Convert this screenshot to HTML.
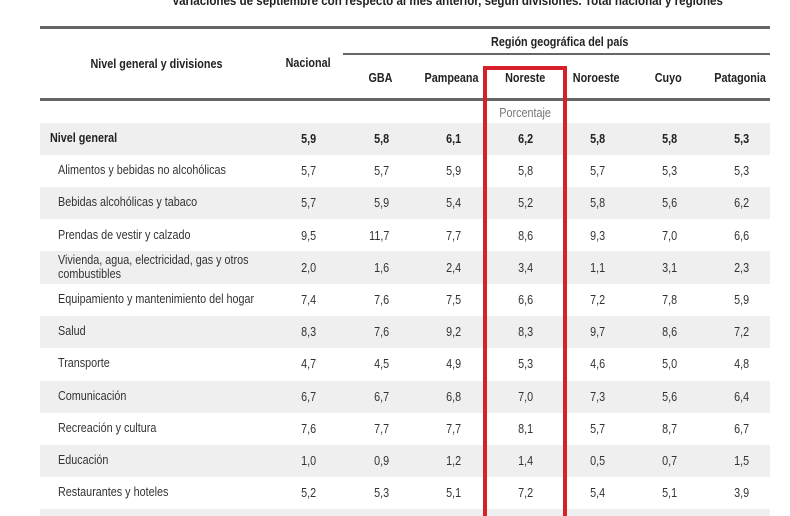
<!DOCTYPE html>
<html><head><meta charset="utf-8"><style>
html,body{margin:0;width:790px;height:516px;overflow:hidden;}
body{background:#fff;position:relative;font-family:"Liberation Sans",sans-serif;color:#333;}
.a{position:absolute;white-space:nowrap;font-size:13px;text-align:center;}
.a span,.n span,.l span{display:inline-block;transform:scaleX(.83);}
.a span{transform-origin:center;}
.n span{transform-origin:right;}
.l span{transform-origin:left;}
.b{font-weight:bold;color:#222;}
.band{position:absolute;left:40px;width:730px;background:#efefef;}
.line{position:absolute;background:#666;}
.n{position:absolute;font-size:13px;text-align:right;width:60px;white-space:nowrap;}
.l{position:absolute;font-size:13px;left:58px;white-space:nowrap;}
</style></head><body>
<div class="a b" style="left:138px;width:600px;top:-7px;"><span style="transform:scaleX(.89)">Variaciones de septiembre con respecto al mes anterior, según divisiones. Total nacional y regiones</span></div>
<div class="line" style="left:40px;top:26px;width:730px;height:3px;"></div>
<div class="line" style="left:343px;top:53px;width:427px;height:2px;"></div>
<div class="line" style="left:40px;top:98px;width:730px;height:3px;"></div>
<div class="band" style="top:123px;height:32px"></div>
<div class="band" style="top:187px;height:32px"></div>
<div class="band" style="top:251px;height:33px"></div>
<div class="band" style="top:316px;height:32px"></div>
<div class="band" style="top:381px;height:32px"></div>
<div class="band" style="top:445px;height:32px"></div>
<div class="band" style="top:509px;height:10px"></div>
<div class="a b" style="left:56px;width:200px;top:56px;"><span>Nivel general y divisiones</span></div>
<div class="a b" style="left:268px;width:80px;top:55px;"><span>Nacional</span></div>
<div class="a b" style="left:460px;width:200px;top:34px;"><span>Región geográfica del país</span></div>
<div class="a b" style="left:340px;width:80px;top:70px;"><span>GBA</span></div>
<div class="a b" style="left:412px;width:80px;top:70px;"><span>Pampeana</span></div>
<div class="a b" style="left:485px;width:80px;top:70px;"><span>Noreste</span></div>
<div class="a b" style="left:556px;width:80px;top:70px;"><span>Noroeste</span></div>
<div class="a b" style="left:628px;width:80px;top:70px;"><span>Cuyo</span></div>
<div class="a b" style="left:700px;width:80px;top:70px;"><span>Patagonia</span></div>
<div class="a" style="left:485px;width:80px;top:105px;color:#777;"><span>Porcentaje</span></div>
<div id="rows"></div>
<div style="position:absolute;left:483px;top:66px;width:76px;height:460px;border:4px solid #d6202a;border-bottom:none;"></div>
<script>
var d=[["Nivel general",["5,9","5,8","6,1","6,2","5,8","5,8","5,3"],1],
["Alimentos y bebidas no alcohólicas",["5,7","5,7","5,9","5,8","5,7","5,3","5,3"]],
["Bebidas alcohólicas y tabaco",["5,7","5,9","5,4","5,2","5,8","5,6","6,2"]],
["Prendas de vestir y calzado",["9,5","11,7","7,7","8,6","9,3","7,0","6,6"]],
["Vivienda, agua, electricidad, gas y otros<br>combustibles",["2,0","1,6","2,4","3,4","1,1","3,1","2,3"]],
["Equipamiento y mantenimiento del hogar",["7,4","7,6","7,5","6,6","7,2","7,8","5,9"]],
["Salud",["8,3","7,6","9,2","8,3","9,7","8,6","7,2"]],
["Transporte",["4,7","4,5","4,9","5,3","4,6","5,0","4,8"]],
["Comunicación",["6,7","6,7","6,8","7,0","7,3","5,6","6,4"]],
["Recreación y cultura",["7,6","7,7","7,7","8,1","5,7","8,7","6,7"]],
["Educación",["1,0","0,9","1,2","1,4","0,5","0,7","1,5"]],
["Restaurantes y hoteles",["5,2","5,3","5,1","7,2","5,4","5,1","3,9"]]];
var R=[316,389,461,533,605,677,749],h="";
d.forEach(function(r,i){var y=139+i*32.2;var b=r[2]?" b":"";
var ly=r[0].indexOf("<br>")>0?y-15:y-8;
h+='<div class="l'+b+'" style="top:'+ly+'px;line-height:14px;'+(r[2]?'left:50px;':'')+'"><span>'+r[0]+'</span></div>';
r[1].forEach(function(v,j){h+='<div class="n'+b+'" style="left:'+(R[j]-60)+'px;top:'+(y-8)+'px"><span>'+v+'</span></div>';});});
document.getElementById("rows").innerHTML=h;
</script>
</body></html>
